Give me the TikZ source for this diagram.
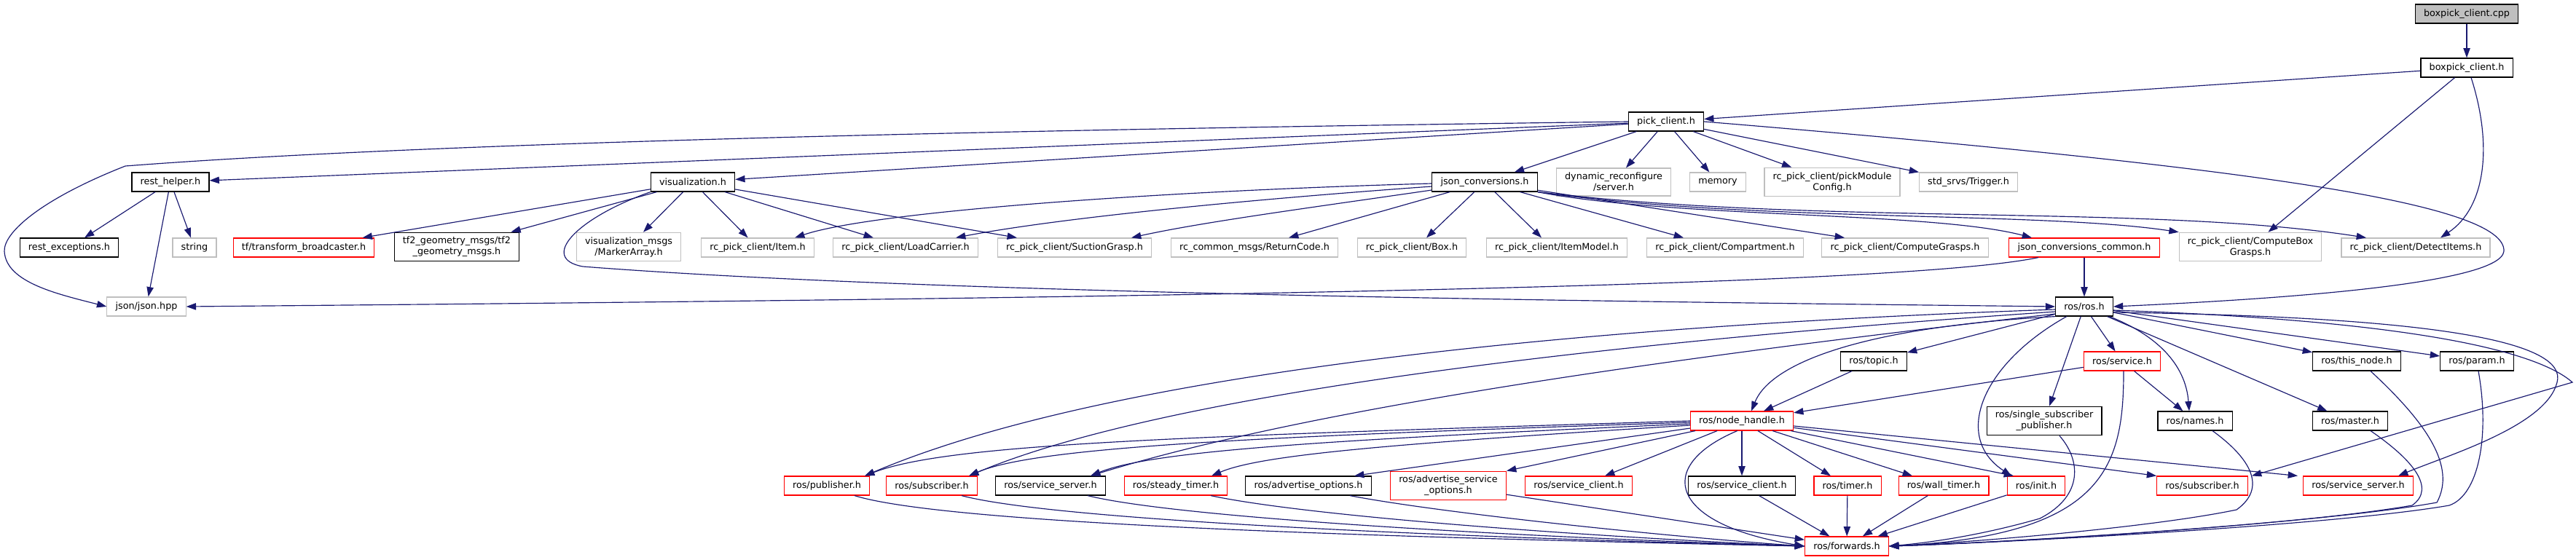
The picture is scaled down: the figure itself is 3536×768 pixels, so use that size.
\documentclass[tikz,border=0pt]{standalone}
\usepackage{fontspec}
\setmainfont{DejaVu Sans}
\usetikzlibrary{arrows.meta,calc}
\definecolor{edgeblue}{RGB}{25,25,112}
\definecolor{nodegray}{RGB}{191,191,191}

\begin{document}
\begin{tikzpicture}[x=0.3mm, y=-0.3mm,
  filebox/.style={draw, rectangle, line width=0.35mm, fill=white,
    font=\fontsize{10.9}{12.8}\selectfont, align=center,
    inner xsep=3.5mm, inner ysep=1.8mm, minimum height=7.8mm},
  docfile/.style={filebox, draw=black},
  extfile/.style={filebox, draw=nodegray},
  cutfile/.style={filebox, draw=red},
  rootfile/.style={filebox, draw=black, fill=nodegray},
  dep/.style={edgeblue, line width=0.35mm, -{Triangle[length=4mm, width=2.8mm]}}]

\useasboundingbox (0,0) rectangle (3536,768);

% Source file and its header
\node[rootfile] (cpp) at (3386,19) {boxpick\_client.cpp};
\node[docfile] (boxh) at (3386,93) {boxpick\_client.h};
\node[docfile] (pick) at (2287,167) {pick\_client.h};

% Headers of pick_client.h
\node[docfile] (rest) at (234,250) {rest\_helper.h};
\node[docfile] (vis) at (951,250) {visualization.h};
\node[docfile] (jconv) at (2038,250) {json\_conversions.h};
\node[extfile] (dynrec) at (2215,250) {dynamic\_reconfigure\\/server.h};
\node[extfile] (memory) at (2358,250) {memory};
\node[extfile] (pickcfg) at (2515,250) {rc\_pick\_client/pickModule\\Config.h};
\node[extfile] (trigger) at (2702,250) {std\_srvs/Trigger.h};

% Message and helper headers
\node[docfile] (restexc) at (95,340) {rest\_exceptions.h};
\node[extfile] (string) at (267,340) {string};
\node[cutfile] (tfbc) at (417,340) {tf/transform\_broadcaster.h};
\node[docfile] (tf2) at (627,339) {tf2\_geometry\_msgs/tf2\\\_geometry\_msgs.h};
\node[extfile] (marker) at (863,339) {visualization\_msgs\\/MarkerArray.h};
\node[extfile] (item) at (1040,340) {rc\_pick\_client/Item.h};
\node[extfile] (loadc) at (1243,340) {rc\_pick\_client/LoadCarrier.h};
\node[extfile] (suction) at (1475,340) {rc\_pick\_client/SuctionGrasp.h};
\node[extfile] (retcode) at (1722,340) {rc\_common\_msgs/ReturnCode.h};
\node[extfile] (box) at (1938,340) {rc\_pick\_client/Box.h};
\node[extfile] (itemmodel) at (2137,340) {rc\_pick\_client/ItemModel.h};
\node[extfile] (compart) at (2368,340) {rc\_pick\_client/Compartment.h};
\node[extfile] (cgrasps) at (2615,340) {rc\_pick\_client/ComputeGrasps.h};
\node[cutfile] (jcc) at (2861,340) {json\_conversions\_common.h};
\node[extfile] (cbox) at (3089,339) {rc\_pick\_client/ComputeBox\\Grasps.h};
\node[extfile] (detect) at (3316,340) {rc\_pick\_client/DetectItems.h};

\node[extfile] (json) at (201,421) {json/json.hpp};
\node[docfile] (ros) at (2861,421) {ros/ros.h};

% ROS headers
\node[docfile] (topic) at (2572,496) {ros/topic.h};
\node[cutfile] (service) at (2913,496) {ros/service.h};
\node[docfile] (thisnode) at (3235,496) {ros/this\_node.h};
\node[docfile] (param) at (3400,496) {ros/param.h};

\node[cutfile] (nh) at (2391,578) {ros/node\_handle.h};
\node[docfile] (ssp) at (2806,578) {ros/single\_subscriber\\\_publisher.h};
\node[docfile] (names) at (3013,578) {ros/names.h};
\node[docfile] (master) at (3226,578) {ros/master.h};

\node[cutfile] (pub) at (1135,667) {ros/publisher.h};
\node[cutfile] (sub1) at (1279,667) {ros/subscriber.h};
\node[docfile] (srv1) at (1442,667) {ros/service\_server.h};
\node[cutfile] (steady) at (1614,667) {ros/steady\_timer.h};
\node[docfile] (advopt) at (1796,667) {ros/advertise\_options.h};
\node[cutfile] (advsrv) at (1988,667) {ros/advertise\_service\\\_options.h};
\node[cutfile] (sclred) at (2167,667) {ros/service\_client.h};
\node[docfile] (sclblk) at (2391,667) {ros/service\_client.h};
\node[cutfile] (timer) at (2536,667) {ros/timer.h};
\node[cutfile] (wtimer) at (2668,667) {ros/wall\_timer.h};
\node[cutfile] (init) at (2795,667) {ros/init.h};
\node[cutfile] (sub2) at (3023,667) {ros/subscriber.h};
\node[cutfile] (srv2) at (3237,667) {ros/service\_server.h};

\node[cutfile] (fwd) at (2535,750) {ros/forwards.h};

% Top edges
\draw[dep] (cpp) -- (boxh);
\draw[dep] (boxh) -- (pick);
\draw[dep] (boxh) -- (cbox);
\draw[dep] ($(boxh.south)+(6,0)$) .. controls (3422,200) and (3412,285) .. ($(detect.north)+(34,0)$);

% pick_client.h
\draw[dep] (pick) -- (rest);
\draw[dep] (pick) -- (vis);
\draw[dep] (pick) -- (jconv);
\draw[dep] (pick) -- (dynrec);
\draw[dep] (pick) -- (memory);
\draw[dep] (pick) -- (pickcfg);
\draw[dep] (pick) -- (trigger);
\draw[dep] (pick.west) .. controls (1400,178) and (600,195) .. (172,228)
  .. controls (60,272) and (5,318) .. (6,345) .. controls (8,388) and (80,404) .. (json.west);
\draw[dep] (pick.east) .. controls (3100,230) and (3440,280) .. (3437,345)
  .. controls (3432,392) and (3100,412) .. (ros.east);

% rest_helper.h and visualization.h
\draw[dep] (rest) -- (restexc);
\draw[dep] (rest) -- (string);
\draw[dep] (rest) -- (json);
\draw[dep] (vis) -- (tfbc);
\draw[dep] (vis) -- (tf2);
\draw[dep] (vis) -- (marker);
\draw[dep] (vis) -- (item);
\draw[dep] (vis) -- (loadc);
\draw[dep] (vis) -- (suction);
\draw[dep] (vis.south west) .. controls (790,300) and (740,355) .. (800,366)
  .. controls (1300,405) and (2300,415) .. (ros.west);

% json_conversions.h
\draw[dep] ($(jconv.west)+(0,2)$) .. controls (1600,262) and (1200,290) .. ($(item.north)+(51,0)$);
\draw[dep] ($(jconv.west)+(0,6)$) .. controls (1700,275) and (1450,300) .. ($(loadc.north)+(69,0)$);
\draw[dep] ($(jconv.west)+(0,11)$) .. controls (1800,285) and (1650,305) .. ($(suction.north)+(78,0)$);
\draw[dep] (jconv) -- ($(retcode.north)+(47,0)$);
\draw[dep] (jconv) -- ($(box.north)+(20,0)$);
\draw[dep] (jconv) -- ($(itemmodel.north)+(-21,0)$);
\draw[dep] (jconv) -- ($(compart.north)+(-57,0)$);
\draw[dep] (jconv) -- ($(cgrasps.north)+(-83,0)$);
\draw[dep] (jconv.south east) .. controls (2300,300) and (2650,290) .. ($(jcc.north)+(-72,0)$);
\draw[dep] (jconv.south east) .. controls (2400,305) and (2800,290) .. (cbox.north west);
\draw[dep] (jconv.south east) .. controls (2500,310) and (2950,280) .. ($(detect.north)+(-68,0)$);

% json_conversions_common.h
\draw[dep] (jcc) -- (ros);
\draw[dep] ($(jcc.south)+(-63,0)$) .. controls (2600,395) and (1500,410) .. (json.east);

% ros/ros.h
\draw[dep] (ros) -- (topic);
\draw[dep] (ros) -- (service);
\draw[dep] (ros) -- (thisnode);
\draw[dep] (ros) -- (param);
\draw[dep] (ros) -- (ssp);
\draw[dep] (ros) -- (master);
\draw[dep] (ros.south west) .. controls (2550,450) and (2430,500) .. ($(nh.north)+(13,0)$);
\draw[dep] (ros) .. controls (2960,460) and (3000,500) .. ($(names.north)+(-8,0)$);
\draw[dep] (ros) .. controls (2720,500) and (2680,600) .. ($(init.north)+(-34,0)$);
\draw[dep] ($(ros.west)+(0,4)$) .. controls (2100,450) and (1500,520) .. ($(pub.north)+(52,0)$);
\draw[dep] ($(ros.west)+(0,7)$) .. controls (2200,470) and (1600,540) .. ($(sub1.north)+(51,0)$);
\draw[dep] ($(ros.west)+(0,10)$) .. controls (2300,490) and (1800,560) .. ($(srv1.north)+(55,0)$);
\draw[dep] ($(ros.east)+(0,5)$) .. controls (3300,440) and (3480,480) .. (3531,525)
  -- ($(sub2.north east)+(5,0)$);
\draw[dep] ($(ros.east)+(0,8)$) .. controls (3350,435) and (3525,470) .. (3510,525)
  .. controls (3495,585) and (3360,625) .. ($(srv2.north)+(55,0)$);

% ros/service.h and ros/topic.h
\draw[dep] (service) -- (nh);
\draw[dep] (service) -- (names);
\draw[dep] ($(service.south)+(2,0)$) .. controls (2915,640) and (2890,735) .. (fwd.east);
\draw[dep] (topic) -- (nh);

% ros/node_handle.h
\draw[dep] (nh.west) .. controls (1600,600) and (1300,610) .. ($(pub.north)+(52,0)$);
\draw[dep] ($(nh.west)+(0,2)$) .. controls (1700,600) and (1420,615) .. ($(sub1.north)+(51,0)$);
\draw[dep] ($(nh.west)+(0,4)$) .. controls (1800,605) and (1580,620) .. ($(srv1.north)+(55,0)$);
\draw[dep] ($(nh.west)+(0,6)$) .. controls (1900,610) and (1730,625) .. ($(steady.north)+(49,0)$);
\draw[dep] (nh) -- ($(advopt.north)+(63,0)$);
\draw[dep] (nh) -- (advsrv.north east);
\draw[dep] (nh) -- ($(sclred.north)+(36,0)$);
\draw[dep] (nh) -- (sclblk);
\draw[dep] (nh) -- ($(timer.north)+(-23,0)$);
\draw[dep] (nh) -- ($(wtimer.north)+(-43,0)$);
\draw[dep] (nh) -- ($(init.north)+(-31,0)$);
\draw[dep] (nh) -- (sub2.north west);
\draw[dep] (nh) -- ($(srv2.north)+(-83,0)$);
\draw[dep] (nh.-115) .. controls (2270,640) and (2290,720) .. (fwd.west);

% Into ros/forwards.h
\draw[dep] ($(pub.south)+(38,0)$) .. controls (1300,720) and (1900,738) .. (fwd.west);
\draw[dep] ($(sub1.south)+(41,0)$) .. controls (1450,715) and (2000,738) .. (fwd.west);
\draw[dep] ($(srv1.south)+(51,0)$) .. controls (1620,712) and (2100,738) .. (fwd.west);
\draw[dep] ($(steady.south)+(48,0)$) .. controls (1800,710) and (2200,738) .. (fwd.west);
\draw[dep] ($(advopt.south)+(57,0)$) .. controls (1980,705) and (2300,738) .. (fwd.west);
\draw[dep] (advsrv) -- (fwd);
\draw[dep] (sclblk) -- (fwd);
\draw[dep] (timer) -- (fwd);
\draw[dep] (wtimer) -- (fwd);
\draw[dep] (init) -- (fwd);
\draw[dep] ($(ssp.south)+(21,0)$) .. controls (2855,630) and (2862,680) .. (2800,712)
  .. controls (2720,735) and (2650,745) .. (fwd.east);
\draw[dep] ($(names.south)+(24,0)$) .. controls (3090,630) and (3112,670) .. (3070,700)
  .. controls (2950,725) and (2700,745) .. (fwd.east);
\draw[dep] ($(master.south)+(28,0)$) .. controls (3310,630) and (3345,670) .. (3311,694)
  .. controls (3150,722) and (2750,745) .. (fwd.east);
\draw[dep] ($(thisnode.south)+(19,0)$) .. controls (3330,580) and (3372,640) .. (3345,690)
  .. controls (3180,720) and (2750,745) .. (fwd.east);
\draw[dep] ($(param.south)+(2,0)$) .. controls (3418,600) and (3402,680) .. (3362,694)
  .. controls (3200,722) and (2750,745) .. (fwd.east);

\end{tikzpicture}
\end{document}
